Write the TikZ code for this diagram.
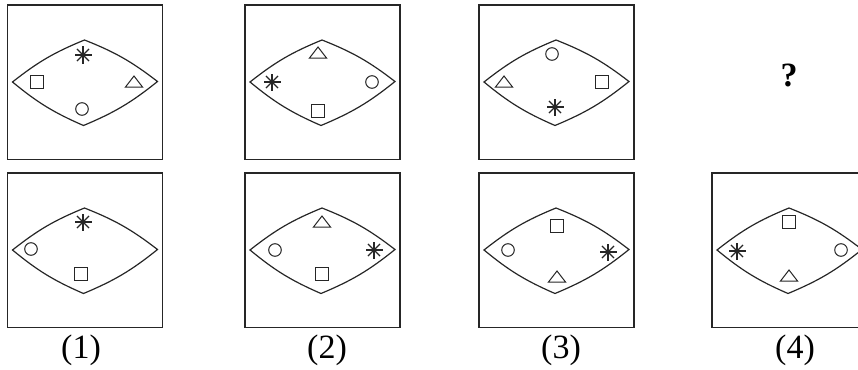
\documentclass[tikz,border=0pt]{standalone}
\usepackage{fontspec}
\setmainfont{Liberation Serif}
\begin{document}
\begin{tikzpicture}[x=1pt,y=-1pt,
  frame/.style={draw=black!85,line width=1.3pt},
  lensline/.style={draw=black!85,line width=1.2pt,line join=miter},
  sym/.style={draw=black!85,line width=1pt},
  lab/.style={inner sep=0pt,anchor=base,font=\fontsize{34}{38}\selectfont},
  sq/.pic={\draw[sym] (-6.8,-6.8) rectangle (6.8,6.8);},
  ci/.pic={\draw[sym] (0,0) circle[radius=6.3pt];},
  tr/.pic={\draw[sym,line join=miter] (-8.5,5) -- (8.5,5) -- (0,-6) -- cycle;},
  as/.pic={\foreach \a in {0,45,90,135} \draw[sym,line width=1.1pt] (\a:8.5) -- (\a+180:8.5);}
]
\useasboundingbox (0,0) rectangle (858,369);
\begin{scope}
\clip (0,0) rectangle (858,369);
% boxes and lenses
\foreach \bx/\by/\nm in {7.5/5/a,245/5/b,479/5/c,7.5/173/d,245/173/e,479/173/f,712/173/g}{
  \draw[frame] (\bx,\by) rectangle ++(155,154.5);
  \draw[lensline] (\bx+5,\by+77) to[bend left=8] (\bx+77,\by+35)
     to[bend left=8] (\bx+150,\by+76.5) to[bend left=8] (\bx+76,\by+120.5)
     to[bend left=8] cycle;
}
% top row box 1
\pic at (83,55) {as};
\pic at (37,82) {sq};
\pic at (134,82) {tr};
\pic at (82,109) {ci};
% top row box 2
\pic at (318,53) {tr};
\pic at (272,82) {as};
\pic at (372,82) {ci};
\pic at (318,111) {sq};
% top row box 3
\pic at (552,54) {ci};
\pic at (504,82) {tr};
\pic at (602,82) {sq};
\pic at (555,107) {as};
% question mark
\node[lab,font=\fontsize{34}{38}\selectfont\bfseries] (q) at (789,86.5) {?};
% bottom row box 1
\pic at (83,222) {as};
\pic at (31,249) {ci};
\pic at (81,274) {sq};
% bottom row box 2
\pic at (322,222) {tr};
\pic at (275,250) {ci};
\pic at (374,250) {as};
\pic at (322,274) {sq};
% bottom row box 3
\pic at (557,226) {sq};
\pic at (508,250) {ci};
\pic at (608,252) {as};
\pic at (557,277) {tr};
% bottom row box 4
\pic at (737,251) {as};
\pic at (789,222) {sq};
\pic at (841,250) {ci};
\pic at (789,276) {tr};
% labels
\node[lab] (l1) at (81,358) {(1)};
\node[lab] (l2) at (327,358) {(2)};
\node[lab] (l3) at (561,358) {(3)};
\node[lab] (l4) at (795,358) {(4)};
\end{scope}
\end{tikzpicture}
\end{document}
